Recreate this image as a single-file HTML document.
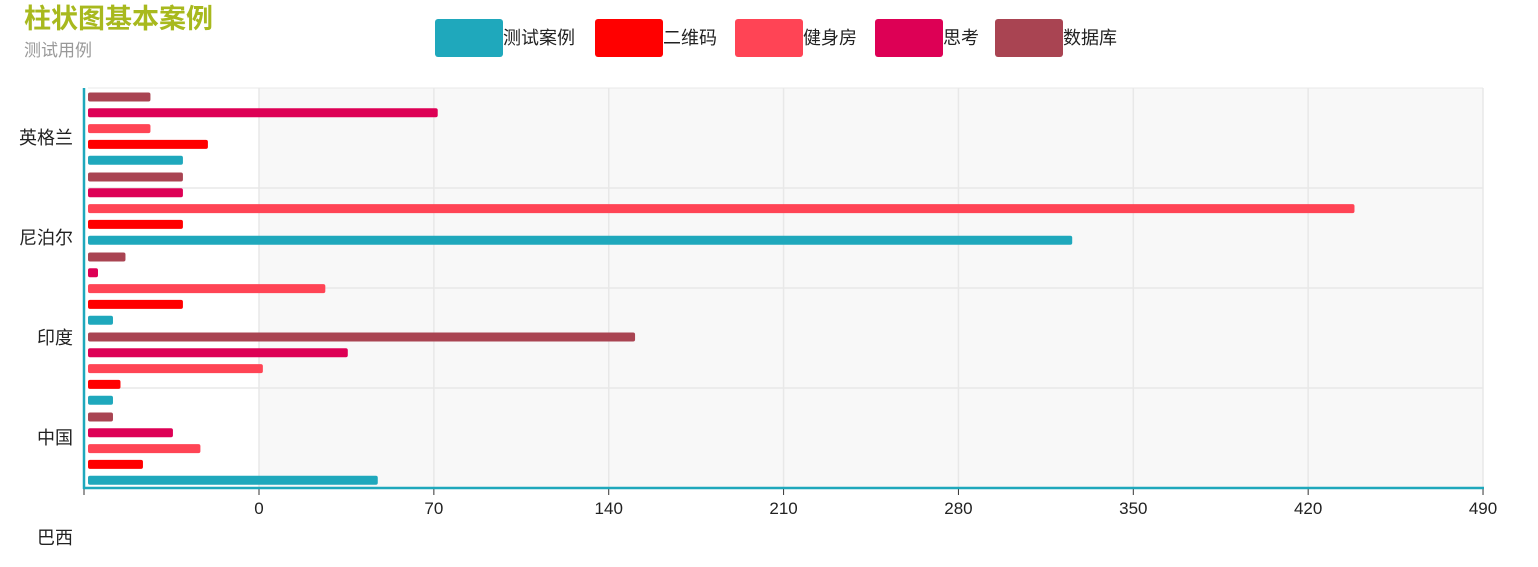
<!DOCTYPE html>
<html><head><meta charset="utf-8"><style>
body{margin:0;width:1538px;height:562px;background:#fff;overflow:hidden;font-family:"Liberation Sans","Noto Sans CJK SC",sans-serif;}
</style></head><body>
<svg id="c" width="1538" height="562" xmlns="http://www.w3.org/2000/svg" style="font-family:'Liberation Sans','Noto Sans CJK SC',sans-serif">
<text x="24" y="28" font-size="27" font-weight="bold" fill="#a8b91e">柱状图基本案例</text>
<text x="24" y="56" font-size="17" fill="#999">测试用例</text>
<g id="plot"></g>
<g id="legend"></g>
</svg>
<script>
const categories=["英格兰","尼泊尔","印度","中国","巴西"];
const seriesNames=["测试案例","二维码","健身房","思考","数据库"];
const seriesColors=["#1fa8bc","#ff0000","#ff4455","#dd0055","#a94452"];
const s_test=[38,394,10,10,116];
const s_qr=[48,38,38,13,22];
const s_gym=[25,507,95,70,45];
const s_think=[140,38,4,104,34];
const s_db=[25,38,15,219,10];
const xTicks=[0,70,140,210,280,350,420,490];
const series=[s_test,s_qr,s_gym,s_think,s_db];
const NS="http://www.w3.org/2000/svg";
const plot=document.getElementById('plot'),legend=document.getElementById('legend');
const k=2.498;
const xTick=t=>259+t*k;
const xBar=v=>v*k;
function mk(tag,attrs,parent){const e=document.createElementNS(NS,tag);for(const a in attrs)e.setAttribute(a,attrs[a]);parent.appendChild(e);return e;}
let bg=mk('rect',{x:259,y:88,width:1224,height:400,fill:'#f8f8f8'},plot);


mk('line',{x1:88,y1:88,x2:1483,y2:88,stroke:'#e8e8e8'},plot);
[188,288,388].forEach(y=>{const l=mk('line',{x1:88,y1:y,x2:1483,y2:y,stroke:'#e8e8e8','stroke-width':1.5},plot);

});
xTicks.forEach(t=>{const x=xTick(t);
const g=mk('line',{x1:x,y1:88,x2:x,y2:488,stroke:'#e8e8e8','stroke-width':1.5},plot);


mk('line',{x1:x,y1:488,x2:x,y2:495,stroke:'#333'},plot);
const tx=mk('text',{x:x,y:514,'font-size':17,'text-anchor':'middle',fill:'#222'},plot);tx.textContent=t;

});
mk('line',{x1:84,y1:488,x2:84,y2:495,stroke:'#333'},plot);
categories.forEach((c,i)=>{const t=mk('text',{x:73,y:138+i*100+6,'font-size':18,'text-anchor':'end',fill:'#222'},plot);t.textContent=c;

});
categories.forEach((c,i)=>{
 for(let j=0;j<5;j++){const si=4-j;const v=series[si][i];
  const y=97+i*80+j*15.8-4.5;
  const r=mk('rect',{x:88,y:y,width:Math.max(xBar(v),2),height:9,rx:2,fill:seriesColors[si]},plot);
  
  
 }});
const ya=mk('line',{x1:84,y1:88,x2:84,y2:489,stroke:'#1fa8bc','stroke-width':2.5},plot);


const xa=mk('line',{x1:83,y1:488,x2:1484,y2:488,stroke:'#1fa8bc','stroke-width':2.5},plot);


const lx=[435,595,735,875,995];
seriesNames.forEach((n,i)=>{
 const b=mk('rect',{x:lx[i],y:19,width:68,height:38,rx:3,fill:seriesColors[i]},legend);
 
 
 const t=mk('text',{x:lx[i]+68,y:44,'font-size':18,fill:'#222'},legend);t.textContent=n;
 
 
});
</script>
</body></html>
